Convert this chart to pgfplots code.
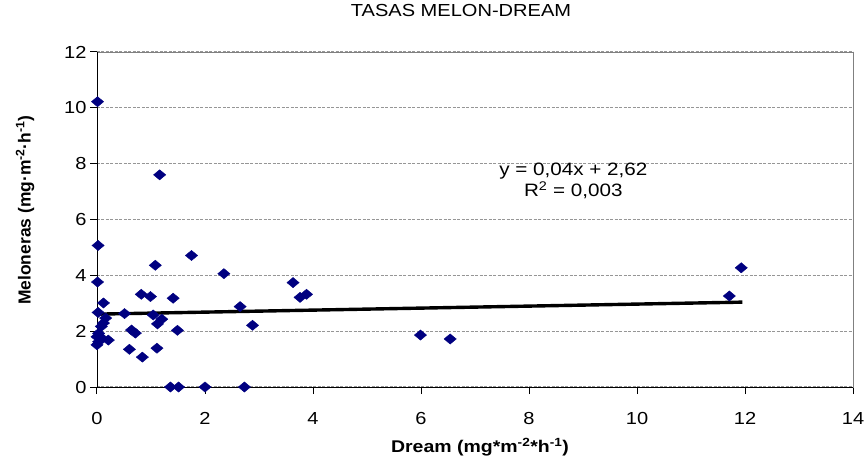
\documentclass[border=0pt]{standalone}
\usepackage{pgfplots}
\pgfplotsset{compat=1.18}
\usepackage{fontspec}
\setmainfont{Liberation Sans}[FakeStretch=1.15]
\newfontfamily\ylabfont{Liberation Sans}
\definecolor{navymark}{RGB}{0,0,128}
\definecolor{gridgray}{RGB}{150,150,150}
\definecolor{framegray}{RGB}{128,128,128}

\begin{document}
\begin{tikzpicture}
\begin{axis}[name=ax,
  scale only axis, width=756bp, height=335bp,
  xmin=0, xmax=14, ymin=0, ymax=12,
  xtick={0,2,4,6,8,10,12,14}, ytick={0,2,4,6,8,10,12},
  xticklabels={0,2,4,6,8,10,12,14}, yticklabels={0,2,4,6,8,10,12},
  xtick pos=lower, ytick pos=left,
  axis line style={framegray, line width=0.9bp},
  tick align=outside, major tick length=7bp,
  every major tick/.append style={black, line width=1bp},
  grid=major, xmajorgrids=false,
  every major grid/.style={gridgray, dash pattern=on 3bp off 1.5bp, line width=1.2bp},
  every x tick label/.append style={yshift=-15bp},
  tick label style={font=\fontsize{17.5}{20}\selectfont},
  clip=false,
  title={TASAS MELON-DREAM},
  title style={font=\fontsize{17.5}{20}\selectfont, at={(rel axis cs:0.4815,1.106)}, anchor=center},
  xlabel={Dream (mg*m\textsuperscript{-2}*h\textsuperscript{-1})},
  xlabel style={font=\fontsize{17}{20}\selectfont\bfseries, at={(rel axis cs:0.5066,-0.179)}, anchor=center},
  ylabel={Meloneras (mg·m\textsuperscript{-2}·h\textsuperscript{-1})},
  ylabel style={font=\ylabfont\fontsize{17.5}{20}\selectfont\bfseries, at={(rel axis cs:-0.0952,0.528)}, anchor=center},
]
% marcas del eje y
\draw[black, line width=1bp] (axis cs:0,0) -- ++(-7bp,0);
\draw[black, line width=1bp] (axis cs:0,2) -- ++(-7bp,0);
\draw[black, line width=1bp] (axis cs:0,4) -- ++(-7bp,0);
\draw[black, line width=1bp] (axis cs:0,6) -- ++(-7bp,0);
\draw[black, line width=1bp] (axis cs:0,8) -- ++(-7bp,0);
\draw[black, line width=1bp] (axis cs:0,10) -- ++(-7bp,0);
\draw[black, line width=1bp] (axis cs:0,12) -- ++(-7bp,0);
% ejes izquierdo e inferior en negro
\draw[black, line width=0.9bp] (rel axis cs:0,1) -- (rel axis cs:0,0) -- (rel axis cs:1,0);

\addplot[black, line width=3.4bp, forget plot] coordinates {(0,2.61) (11.95,3.04)};

\addplot[only marks, mark=diamond*, mark size=5.1bp, color=navymark, mark options={xscale=1.6}] coordinates {
 (0.01,10.22) (1.16,7.60) (0.02,5.07) (1.75,4.71) (1.08,4.36) (2.35,4.06)
 (0.01,3.76) (3.63,3.74) (3.76,3.21) (3.88,3.32) (0.82,3.32) (0.99,3.24)
 (0.12,3.01) (1.41,3.18) (0.02,2.67) (0.51,2.63) (1.04,2.58) (2.65,2.88)
 (0.16,2.47) (0.12,2.29) (0.08,2.17) (1.20,2.43) (1.12,2.26) (2.88,2.21)
 (1.49,2.03) (0.64,2.04) (0.71,1.93) (0.03,1.92) (0.00,1.80) (0.09,1.75)
 (0.21,1.68) (0.03,1.62) (0.00,1.51) (0.60,1.35) (1.11,1.39) (0.84,1.07)
 (1.36,0) (1.51,0) (2.00,0) (2.73,0)
 (5.99,1.86) (6.54,1.72) (11.71,3.26) (11.93,4.27)};

\node[align=center, font=\fontsize{18}{20}\selectfont, inner sep=0pt] at (axis cs:8.82,7.39)
  {y = 0,04x + 2,62\\[1bp] R\textsuperscript{2} = 0,003};
\end{axis}
\pgfresetboundingbox
\path[use as bounding box] ([shift={(-97bp,-74bp)}]ax.south west) rectangle ([shift={(13bp,52bp)}]ax.north east);
\end{tikzpicture}
\end{document}
